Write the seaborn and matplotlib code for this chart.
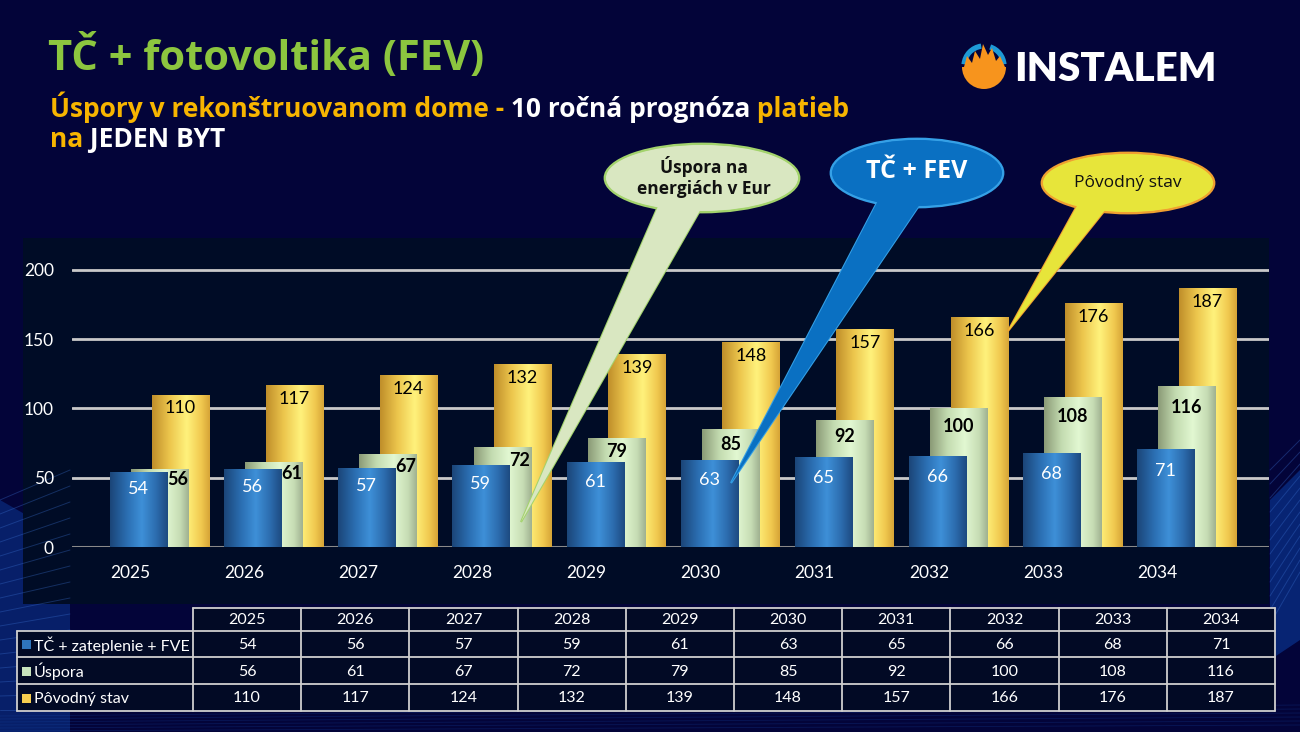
import numpy as np
import matplotlib
matplotlib.use("Agg")
import matplotlib.pyplot as plt
import seaborn as sns
from matplotlib.colors import LinearSegmentedColormap
from matplotlib.patches import Rectangle, Ellipse, Polygon, Circle, Wedge, Arc

# ---------------- data ----------------
years = ["2025", "2026", "2027", "2028", "2029", "2030", "2031", "2032", "2033", "2034"]
tc_fve = [54, 56, 57, 59, 61, 63, 65, 66, 68, 71]          # TČ + zateplenie + FVE
uspora = [56, 61, 67, 72, 79, 85, 92, 100, 108, 116]       # Úspora
povodny = [110, 117, 124, 132, 139, 148, 157, 166, 176, 187]  # Pôvodný stav
series_names = ["TČ + zateplenie + FVE", "Úspora", "Pôvodný stav"]
y_ticks = [0, 50, 100, 150, 200]

# ---------------- style ----------------
sns.set_theme(style="white")
FONT = ["Lato", "DejaVu Sans"]
HEAD = ["Open Sans", "DejaVu Sans"]
plt.rcParams["font.family"] = FONT

BG = "#030439"
PANEL = "#000c26"
W, H = 1300, 732
fig = plt.figure(figsize=(13, 7.32), dpi=100, facecolor=BG)

# background / overlay axes in pixel coordinates
bg = fig.add_axes([0, 0, 1, 1], zorder=0)
bg.set_xlim(0, W); bg.set_ylim(H, 0); bg.axis("off")
bg.set_facecolor(BG)

# decorative streaks
bg.add_patch(Polygon([[0, 500], [70, 540], [70, 732], [0, 732]], closed=True,
                     color="#0b3a9a", alpha=0.5, lw=0))
for k in range(16):
    bg.plot([0, 70], [500 + k * 14, 470 + k * 16], color="#3a70d0", lw=0.7, alpha=0.35)
bg.add_patch(Polygon([[1270, 500], [1300, 470], [1300, 640], [1270, 660]], closed=True,
                     color="#0b3a9a", alpha=0.6, lw=0))
for k in range(12):
    bg.plot([1270, 1300], [470 + k * 14, 440 + k * 12], color="#3a70d0", lw=0.7, alpha=0.35)
for k in range(6):
    bg.plot([0, 1300], [716 + k * 3, 705 + k * 4], color="#1a4fb0", lw=0.6, alpha=0.25)

# chart panel
bg.add_patch(Rectangle((23, 238), 1246, 366, color=PANEL, lw=0))

# ---------------- chart ----------------
ax = fig.add_axes([72 / W, (H - 547) / H, (1269 - 72) / W, 291 / H], zorder=1)
ax.set_facecolor("none")

idx = np.arange(len(years))
offsets = [0.075, 0.26, 0.44]
bar_w = 0.5
values = [tc_fve, uspora, povodny]
base_cols = ["#2f74bb", "#cfe6bf", "#f6d45a"]
cmaps = [
    LinearSegmentedColormap.from_list("b", [(0, "#1b4578"), (0.3, "#2b6fb3"), (0.55, "#3e90d8"),
                                            (0.8, "#2c6cae"), (1, "#1d4a80")]),
    LinearSegmentedColormap.from_list("g", [(0, "#8a9a76"), (0.3, "#c3dbb0"), (0.6, "#e2f8d2"),
                                            (0.85, "#c6dcb4"), (1, "#9fb090")]),
    LinearSegmentedColormap.from_list("y", [(0, "#bf8e2a"), (0.3, "#ecc54c"), (0.6, "#fff27c"),
                                            (0.85, "#f1c94f"), (1, "#d6a437")]),
]
zorders = [7, 5, 3]

grad = np.linspace(0, 1, 256).reshape(1, -1)
for s in [2, 1, 0]:
    n0 = len(ax.patches)
    sns.barplot(x=idx + offsets[s], y=values[s], native_scale=True, width=bar_w,
                color=base_cols[s], errorbar=None, ax=ax, zorder=zorders[s],
                linewidth=0, saturation=1)
    for p in ax.patches[n0:]:
        x0, w, h = p.get_x(), p.get_width(), p.get_height()
        im = ax.imshow(grad, cmap=cmaps[s], extent=[x0, x0 + w, 0, h], aspect="auto",
                       zorder=zorders[s] + 0.5, interpolation="bicubic")
        im.set_clip_path(p)

ax.set_xlim(-0.508, 9.98)
ax.set_ylim(0, 210)
ax.set_yticks(y_ticks)
ax.set_xticks(idx)
ax.set_xticklabels(years)
ax.tick_params(axis="both", length=0, colors="white", labelsize=12.5)
ax.tick_params(axis="x", pad=13)
ax.tick_params(axis="y", pad=13)
for sp in ax.spines.values():
    sp.set_visible(False)
ax.set_xlabel(""); ax.set_ylabel("")
for t in y_ticks[1:]:
    ax.axhline(t, color="#c9c9c9", lw=2, zorder=1)
ax.axhline(0, color="#8a8a8a", lw=2.2, zorder=1)

# value labels
for i in idx:
    b, g, y = tc_fve[i], uspora[i], povodny[i]
    ax.text(i + offsets[0], b * 0.77, str(b), color="white", ha="center", va="center",
            fontsize=13, zorder=12)
    if g * 0.87 < b + 5:
        gx = i + offsets[0] + bar_w / 2 + (offsets[1] - offsets[0]) / 2
    else:
        gx = i + offsets[1]
    ax.text(gx, g * 0.87, str(g), color="black", ha="center", va="center",
            fontsize=13, fontweight="bold", zorder=12)
    ax.text(i + offsets[2], y - 10, str(y), color="black", ha="center", va="center",
            fontsize=13, zorder=12)

# ---------------- overlay (titles, callouts, table) ----------------
ov = fig.add_axes([0, 0, 1, 1], zorder=3)
ov.set_xlim(0, W); ov.set_ylim(H, 0); ov.axis("off")
ov.set_facecolor("none")

ov.text(48, 70, "TČ + fotovoltika (FEV)", color="#8cc63f", fontsize=30, fontweight="bold",
        family=HEAD, va="baseline", ha="left")

renderer = fig.canvas.get_renderer()
def seq(x, y, parts, size):
    for txt, col, wt in parts:
        t = ov.text(x, y, txt, color=col, fontsize=size, fontweight=wt, family=HEAD,
                    va="baseline", ha="left")
        bb = t.get_window_extent(renderer)
        x += bb.width
    return x

YEL = "#f7b500"
seq(50, 117, [("Úspory v rekonštruovanom dome -", YEL, "bold"),
              (" 10 ročná prognóza", "white", "bold"),
              (" platieb", YEL, "bold")], 19)
seq(50, 147, [("na", YEL, "bold"), (" JEDEN BYT", "white", "bold")], 19)

# logo (screen coords: y grows downward)
ORG, LBL = "#f7941d", "#1e9ad6"
cx, cy = 984, 66
ov.add_patch(Arc((cx, cy), 40, 40, theta1=185, theta2=262, color=LBL, lw=3.8))
ov.add_patch(Arc((cx, cy), 40, 40, theta1=288, theta2=355, color=LBL, lw=3.8))
ov.add_patch(Wedge((cx, cy + 1), 22, 0, 180, color=ORG, lw=0))
ov.add_patch(Polygon([[964, 67], [967, 56], [972, 63], [975, 51], [980, 59], [983, 44],
                      [988, 55], [992, 48], [996, 61], [1000, 56], [1005, 67]],
                     closed=True, color=ORG, lw=0))
ov.text(1014, 81, "INSTALEM", color="white", fontsize=29, fontweight="heavy",
        va="baseline", ha="left")

# callouts
def bubble(cx, cy, w, h, base, tip, fill, edge, z):
    ov.add_patch(Ellipse((cx, cy), w, h, facecolor=fill, edgecolor=edge, lw=2, zorder=z))
    tail = [[base[0], cy + h * 0.35], [base[1], cy + h * 0.35], tip]
    ov.add_patch(Polygon(tail, closed=True, facecolor=fill, edgecolor=edge, lw=1.5, zorder=z + 0.1))
    ov.add_patch(Ellipse((cx, cy), w - 2, h - 2, facecolor=fill, edgecolor="none", zorder=z + 0.2))
    ov.add_patch(Polygon(tail, closed=True, facecolor=fill, edgecolor="none", zorder=z + 0.2))

bubble(702, 178, 194, 68, (660, 705), (521, 522), "#d9e7c1", "#a3d36c", 4)
ov.text(704, 177, "Úspora na\nenergiách v Eur", ha="center", va="center", fontsize=12.5,
        fontweight="bold", family=HEAD, color="#111111", zorder=5, linespacing=1.15)
bubble(917, 173, 172, 68, (880, 925), (731, 483), "#0a70c2", "#35a0e6", 4)
ov.text(917, 172, "TČ + FEV", ha="center", va="center", fontsize=18, fontweight="bold",
        family=HEAD, color="white", zorder=5)
bubble(1128, 183, 172, 60, (1078, 1110), (1008, 331), "#e7e53a", "#f0a030", 4)
ov.text(1128, 183, "Pôvodný stav", ha="center", va="center", fontsize=12.5,
        family=HEAD, color="#111111", zorder=5)

# table
T_L, T_C0, T_R = 17, 193, 1275
rows_y = [608, 631, 657, 684, 711]
col_w = (T_R - T_C0) / len(years)
ov.add_patch(Rectangle((T_L, rows_y[1]), T_R - T_L, rows_y[-1] - rows_y[1], color="#020a25", lw=0))
ov.add_patch(Rectangle((T_C0, rows_y[0]), T_R - T_C0, rows_y[1] - rows_y[0], color="#020a25", lw=0))
LC = "#cfcfcf"
ov.plot([T_C0, T_R], [rows_y[0]] * 2, color=LC, lw=1.3)
for yy in rows_y[1:]:
    ov.plot([T_L, T_R], [yy, yy], color=LC, lw=1.3)
ov.plot([T_L, T_L], [rows_y[1], rows_y[-1]], color=LC, lw=1.3)
for c in range(len(years) + 1):
    xx = T_C0 + c * col_w
    ov.plot([xx, xx], [rows_y[0], rows_y[-1]], color=LC, lw=1.3)
for c, yr in enumerate(years):
    ov.text(T_C0 + (c + 0.5) * col_w, (rows_y[0] + rows_y[1]) / 2 + 1, yr, ha="center",
            va="center", color="white", fontsize=11.5)
sq_cols = ["#2f74bb", "#c7e3bd", "#f6cd4f"]
for r, (name, vals) in enumerate(zip(series_names, values)):
    yc = (rows_y[r + 1] + rows_y[r + 2]) / 2 + 1
    ov.add_patch(Rectangle((22, yc - 5), 9, 9, color=sq_cols[r], lw=0))
    ov.text(34, yc, name, ha="left", va="center", color="white", fontsize=11.5)
    for c, v in enumerate(vals):
        ov.text(T_C0 + (c + 0.5) * col_w, yc, str(v), ha="center", va="center",
                color="white", fontsize=11.5)

fig.savefig("out.png", dpi=100, facecolor=BG)
